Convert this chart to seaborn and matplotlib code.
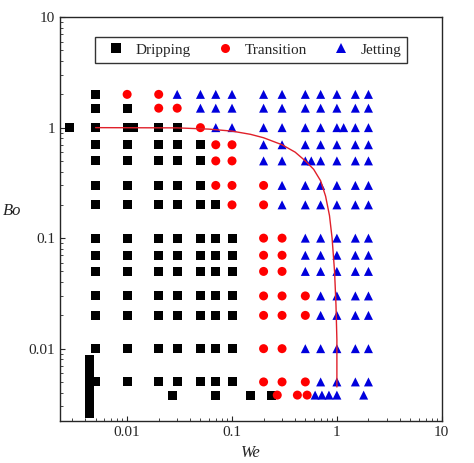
import numpy as np
import pandas as pd
import matplotlib
matplotlib.use("Agg")
import matplotlib.pyplot as plt
import seaborn as sns

sns.set_style("ticks")
plt.rcParams["font.family"] = ["Liberation Serif", "DejaVu Serif"]
plt.rcParams["mathtext.fontset"] = "stix"

# grid rows (Bo) and columns (We)
bo_rows = [2, 1.5, 1, 0.7, 0.5, 0.3, 0.2, 0.1, 0.07, 0.05, 0.03, 0.02, 0.01, 0.005]
we_cols = [0.005, 0.01, 0.02, 0.03, 0.05, 0.07, 0.1, 0.2, 0.3, 0.5, 0.7, 1, 1.5, 2]
# regime per column, top row to bottom row (D dripping, T transition, J jetting)
regimes = [
    "DDDDDDDDDDDDDD",
    "TDDDDDDDDDDDDD",
    "TTDDDDDDDDDDDD",
    "JTDDDDDDDDDDDD",
    "JJTDDDDDDDDDDD",
    "JJJTTTDDDDDDDD",
    "JJJTTTTDDDDDDD",
    "JJJJJTTTTTTTTT",
    "JJJJJJJTTTTTTT",
    "JJJJJJJJJJTTJT",
    "JJJJJJJJJJJJJJ",
    "JJJJJJJJJJJJJJ",
    "JJJJJJJJJJJJJJ",
    "JJJJJJJJJJJJJJ",
]
# extra measured points off the grid
extra_we = [0.0028, 0.0115, 0.57, 1.16,
            0.0044, 0.0044, 0.0044, 0.0044, 0.0044, 0.0044, 0.0044, 0.0044, 0.0044,
            0.027, 0.07, 0.15, 0.24, 0.27, 0.42, 0.52, 0.62, 0.72, 0.84, 1.0, 1.8]
extra_bo = [1, 1, 0.5, 1,
            0.008, 0.007, 0.006, 0.005, 0.0045, 0.004, 0.0035, 0.003, 0.0026,
            0.0038, 0.0038, 0.0038, 0.0038, 0.0038, 0.0038, 0.0038, 0.0038, 0.0038, 0.0038, 0.0038, 0.0038]
extra_reg = ["D", "D", "J", "J",
             "D", "D", "D", "D", "D", "D", "D", "D", "D",
             "D", "D", "D", "D", "T", "T", "T", "J", "J", "J", "J", "J"]

# boundary curve
curve_we = [0.005, 0.03, 0.06, 0.1, 0.15, 0.2, 0.3, 0.4, 0.5, 0.6, 0.7, 0.78,
            0.85, 0.9, 0.95, 0.98, 1.0, 1.0]
curve_bo = [1.0, 0.995, 0.97, 0.93, 0.87, 0.81, 0.7, 0.6, 0.5, 0.42, 0.33, 0.24,
            0.16, 0.1, 0.05, 0.025, 0.012, 0.0045]

names = {"D": "Dripping", "T": "Transition", "J": "Jetting"}
rows = []
for we, col in zip(we_cols, regimes):
    for bo, r in zip(bo_rows, col):
        rows.append((we, bo, names[r]))
for we, bo, r in zip(extra_we, extra_bo, extra_reg):
    rows.append((we, bo, names[r]))
df = pd.DataFrame(rows, columns=["We", "Bo", "Regime"])

fig, ax = plt.subplots(figsize=(4.74, 4.63), dpi=100)
sns.scatterplot(data=df, x="We", y="Bo", hue="Regime", style="Regime",
                hue_order=["Dripping", "Transition", "Jetting"],
                palette={"Dripping": "black", "Transition": "red", "Jetting": "#0000dd"},
                markers={"Dripping": "s", "Transition": "o", "Jetting": "^"},
                s=42, linewidth=0, ax=ax)
ax.plot(curve_we, curve_bo, color="#e0202a", lw=1)

ax.set_xscale("log")
ax.set_yscale("log")
ax.set_xlim(0.0023, 10)
ax.set_ylim(0.0022, 10)
ax.set_xticks([0.01, 0.1, 1, 10], ["0.01", "0.1", "1", "10"])
ax.set_yticks([0.01, 0.1, 1, 10], ["0.01", "0.1", "1", "10"])
ax.tick_params(which="both", direction="in", top=False, right=False, labelsize=11)
ax.set_xlabel("We", style="italic", fontsize=12)
ax.set_ylabel("Bo", style="italic", fontsize=12, rotation=0, labelpad=12)
ax.legend(loc="upper center", ncol=3, frameon=True, fancybox=False, edgecolor="black",
          fontsize=11, handletextpad=0.3, columnspacing=1.2, borderpad=0.4,
          bbox_to_anchor=(0.5, 0.97))
for s in ax.spines.values():
    s.set_linewidth(1)
fig.subplots_adjust(left=0.127, right=0.932, top=0.963, bottom=0.09)
fig.savefig("out.png", dpi=100)
